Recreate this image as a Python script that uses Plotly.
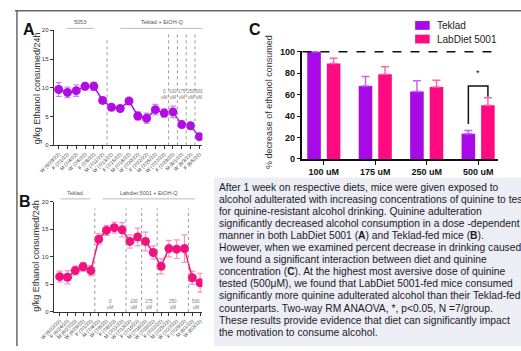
import plotly.graph_objects as go

W, H = 521, 351

# ---------------- data ----------------
dates_a = ["W (6/29/22)", "F (7/1/22)", "M (7/4/22)", "W (7/6/22)", "F (7/8/22)",
           "M (7/11/22)", "W (7/13/22)", "F (7/15/22)", "M (7/18/22)", "W (7/20/22)",
           "F (7/22/22)", "M (7/25/22)", "W (7/27/22)", "F (7/29/22)", "M (8/1/22)",
           "W (8/3/22)", "F (8/5/22)"]
vals_a = [9.7, 9.2, 9.5, 10.25, 10.25, 7.8, 6.6, 6.4, 7.7, 5.1, 4.7, 6.2, 5.6, 5.8, 3.6, 3.4, 1.5]
err_a = [1.2, 0.9, 1.0, 0.6, 0.7, 0.5, 0.5, 0.4, 0.4, 0.7, 0.9, 0.9, 0.7, 1.0, 0.4, 0.4, 0.3]

dates_b = ["W (6/22/22)", "F (6/24/22)", "M (6/27/22)", "W (6/29/22)", "F (7/1/22)",
           "M (7/4/22)", "W (7/6/22)", "F (7/8/22)", "M (7/11/22)", "W (7/13/22)",
           "F (7/15/22)", "M (7/18/22)", "W (7/20/22)", "F (7/22/22)", "M (7/25/22)",
           "W (7/27/22)", "F (7/29/22)", "M (8/1/22)", "W (8/3/22)"]
vals_b = [6.4, 6.3, 7.5, 8.2, 7.5, 13.2, 14.8, 15.3, 14.9, 12.8, 13.6, 12.8, 10.8, 8.3,
          11.5, 11.4, 11.5, 6.2, 5.3]
err_b = [1.0, 1.2, 0.8, 0.8, 0.9, 1.0, 0.9, 1.0, 1.3, 1.2, 1.6, 1.7, 1.2, 1.4, 1.5, 1.7,
         2.5, 1.2, 1.7]

# phase separators / concentration labels (positions in point index units)
sep_a = [5.5, 12.5, 13.5, 14.5, 15.5]
conc_a_pos = [12, 13, 14, 15, 16]
conc_labels = ["0", "100", "175", "250", "500"]
sep_b = [4.5, 8.5, 10.5, 12.5, 16.5]
conc_b_pos = [6.5, 9.5, 11.5, 14.5, 17.5]

cats_c = ["100 uM", "175 uM", "250 uM", "500 uM"]
teklad_c = [100, 68, 63, 23.5]
teklad_err = [0, 9, 10, 3]
labdiet_c = [89, 79, 67, 50]
labdiet_err = [5, 7, 6.5, 7]

text_lines = [
    "After 1 week on respective diets, mice were given exposed to",
    "alcohol adulterated with increasing concentrations of quinine to test",
    "for quinine-resistant alcohol drinking. Quinine adulteration",
    "significantly decreased alcohol consumption in a dose -dependent",
    "manner in both LabDiet 5001 (<b>A</b>) and Teklad-fed mice (<b>B</b>).",
    "However, when we examined percent decrease in drinking caused",
    "we found a significant interaction between diet and quinine",
    "concentration (<b>C</b>). At the highest most aversive dose of quinine",
    "tested (500\u03bcM), we found that LabDiet 5001-fed mice consumed",
    "significantly more quinine adulterated alcohol than their Teklad-fed",
    "counterparts. Two-way RM ANAOVA, *, p<0.05, N =7/group.",
    "These results provide evidence that diet can significantly impact",
    "the motivation to consume alcohol.",
]

PURPLE = "#b10de3"
PURPLE_L = "rgba(190,90,235,0.75)"
PINK = "#f2127f"
PINK_L = "rgba(245,120,180,0.8)"
TEK = "#a70ae6"
TEK_L = "#c466f0"
LAB = "#ff0a80"
LAB_L = "#ff66aa"
FONT = "Liberation Sans, Arial, sans-serif"


def px_x(p):
    return p / W


def px_y(p):
    return (H - p) / H


def ann(**kw):
    d = dict(showarrow=False, xanchor="center", yanchor="middle")
    d.update(kw)
    return d


fig = go.Figure()

# Panel A
fig.add_trace(go.Scatter(
    x=list(range(len(vals_a))), y=vals_a, mode="lines+markers",
    line=dict(color=PURPLE, width=1.5),
    marker=dict(color=PURPLE, size=9),
    error_y=dict(type="data", array=err_a, color=PURPLE_L, thickness=1.2, width=3),
    xaxis="x", yaxis="y", showlegend=False))

# Panel B
fig.add_trace(go.Scatter(
    x=list(range(len(vals_b))), y=vals_b, mode="lines+markers",
    line=dict(color=PINK, width=1.5),
    marker=dict(color=PINK, size=9),
    error_y=dict(type="data", array=err_b, color=PINK_L, thickness=1.2, width=3),
    xaxis="x2", yaxis="y2", showlegend=False))

# Panel C
xc = list(range(len(cats_c)))
fig.add_trace(go.Bar(
    x=xc, y=teklad_c, name="Teklad", marker=dict(color=TEK, line=dict(width=0)),
    error_y=dict(type="data", symmetric=False, array=teklad_err,
                 arrayminus=[0] * 4, color=TEK_L, thickness=1.5, width=4),
    xaxis="x3", yaxis="y3", showlegend=False))
fig.add_trace(go.Bar(
    x=xc, y=labdiet_c, name="LabDiet 5001", marker=dict(color=LAB, line=dict(width=0)),
    error_y=dict(type="data", symmetric=False, array=labdiet_err,
                 arrayminus=[0] * 4, color=LAB_L, thickness=1.5, width=4),
    xaxis="x3", yaxis="y3", showlegend=False))

shapes = []
annotations = []

# frame lines
shapes.append(dict(type="line", xref="paper", yref="paper", x0=0, x1=1,
                   y0=px_y(7), y1=px_y(7), line=dict(color="#666", width=1.5)))
shapes.append(dict(type="line", xref="paper", yref="paper", x0=px_x(2), x1=px_x(2),
                   y0=0, y1=px_y(7), line=dict(color="#666", width=1.5)))
# text box background
shapes.append(dict(type="rect", xref="paper", yref="paper", x0=px_x(205), x1=1,
                   y0=0, y1=px_y(178), fillcolor="#ededf6", line=dict(width=0),
                   layer="below"))

# separators A
for i, s in enumerate(sep_a):
    shapes.append(dict(type="line", xref="x", yref="y", x0=s, x1=s, y0=0,
                       y1=18.6 if i == 0 else 19.4,
                       line=dict(color="#9a9a9a", width=1, dash="dot")))
for p, lab in zip(conc_a_pos, conc_labels):
    annotations.append(ann(xref="x", yref="y", x=p, y=8.9, text=lab + "<br>uM",
                           font=dict(size=4.5, color="#777", family=FONT)))
# separators B
for s in sep_b:
    shapes.append(dict(type="line", xref="x2", yref="y2", x0=s, x1=s, y0=0, y1=18.8,
                       line=dict(color="#9a9a9a", width=1, dash="dot")))
for p, lab in zip(conc_b_pos, conc_labels):
    annotations.append(ann(xref="x2", yref="y2", x=p, y=1.35, text=lab + "<br>uM",
                           font=dict(size=4.5, color="#777", family=FONT)))

# header lines A
for (a, b, t) in [(0.9, 4.0, "5053"), (7.0, 16.4, "Teklad + EtOH-Q")]:
    shapes.append(dict(type="line", xref="x", yref="paper", x0=a, x1=b,
                       y0=px_y(25), y1=px_y(25), line=dict(color="#bbb", width=1)))
    annotations.append(ann(xref="x", yref="paper", x=(a + b) / 2, y=px_y(18), text=t,
                           font=dict(size=5.5, color="#555", family=FONT)))
# header lines B
for (a, b, t) in [(0.1, 3.9, "Teklad"), (5.5, 17.3, "Labdiet 5001 + EtOH-Q")]:
    shapes.append(dict(type="line", xref="x2", yref="paper", x0=a, x1=b,
                       y0=px_y(200), y1=px_y(200), line=dict(color="#bbb", width=1)))
    annotations.append(ann(xref="x2", yref="paper", x=(a + b) / 2, y=px_y(194), text=t,
                           font=dict(size=5.5, color="#555", family=FONT)))

# y titles A, B
annotations.append(ann(xref="paper", yref="paper", x=px_x(22), y=px_y(86),
                       text="g/kg Ethanol consumed/24h", textangle=-90,
                       font=dict(size=9, color="#333", family=FONT)))
annotations.append(ann(xref="paper", yref="paper", x=px_x(22), y=px_y(258),
                       text="g/kg Ethanol consumed/24h", textangle=-90,
                       font=dict(size=9, color="#333", family=FONT)))
# y title C
annotations.append(ann(xref="paper", yref="paper", x=px_x(262), y=px_y(100),
                       text="% decrease of ethanol consumed", textangle=-90,
                       font=dict(size=9, color="#333", family=FONT)))

# panel letters
for (x, y, t) in [(14, 26, "A"), (10, 203, "B"), (247, 26, "C")]:
    annotations.append(ann(xref="paper", yref="paper", x=px_x(x), y=px_y(y),
                           text="<b>" + t + "</b>",
                           font=dict(size=16, color="#111", family=FONT)))

# dashed 100% line C
shapes.append(dict(type="line", xref="x3 domain", yref="y3", x0=0, x1=1, y0=100, y1=100,
                   line=dict(color="#111", width=1.5, dash="dash")))
# significance bracket C (500 uM)
off = 0.19
xl, xr = 3 - off, 3 + off
ytop = 68
shapes.append(dict(type="path", xref="x3", yref="y3",
                   path=f"M {xl} {teklad_c[3] + teklad_err[3] + 6} L {xl} {ytop} L {xr} {ytop} L {xr} {labdiet_c[3] + labdiet_err[3] + 1}",
                   line=dict(color="#111", width=1.5)))
annotations.append(ann(xref="x3", yref="y3", x=3, y=80, text="*",
                       font=dict(size=9, color="#111", family=FONT)))

# manual legend C
for i, (c, t) in enumerate([(TEK, "Teklad"), (LAB, "LabDiet 5001")]):
    yc = 22 + 14 * i
    shapes.append(dict(type="rect", xref="paper", yref="paper", x0=px_x(412), x1=px_x(427),
                       y0=px_y(yc + 4.5), y1=px_y(yc - 4.5), fillcolor=c, line=dict(width=0)))
    annotations.append(ann(xref="paper", yref="paper", x=px_x(432), y=px_y(yc), text=t,
                           xanchor="left", font=dict(size=10, color="#222", family=FONT)))

# text block
for i, line in enumerate(text_lines):
    annotations.append(ann(xref="paper", yref="paper", x=px_x(208), y=px_y(188 + 12.4 * i),
                           text=line, xanchor="left",
                           font=dict(size=10.3, color="#1a1a1a",
                                     family="Liberation Sans Narrow, Arial Narrow, Liberation Sans")))

axis_common = dict(showgrid=False, zeroline=False, showline=True, ticks="outside")

fig.update_layout(
    width=W, height=H, margin=dict(l=0, r=0, t=0, b=0),
    paper_bgcolor="white", plot_bgcolor="rgba(0,0,0,0)",
    font=dict(family=FONT, color="#222"),
    barmode="group", bargap=0.24, bargroupgap=0.305,
    shapes=shapes, annotations=annotations,
    xaxis=dict(axis_common, domain=[px_x(40), px_x(193)], range=[-0.55, 16.35],
               anchor="y", tickvals=list(range(len(dates_a))), ticktext=dates_a,
               tickangle=-45, tickfont=dict(size=5, color="#333"), linecolor="#333",
               linewidth=1.2, ticklen=3, tickcolor="#333"),
    yaxis=dict(axis_common, domain=[px_y(145), px_y(27)], range=[0, 20], anchor="x",
               tickvals=[0, 5, 10, 15, 20], tickfont=dict(size=6, color="#333"),
               linecolor="#333", linewidth=1.2, ticklen=3, tickcolor="#333"),
    xaxis2=dict(axis_common, domain=[px_x(40), px_x(193)], range=[-0.75, 18.3],
                anchor="y2", tickvals=list(range(len(dates_b))), ticktext=dates_b,
                tickangle=-45, tickfont=dict(size=5, color="#333"), linecolor="#333",
                linewidth=1.2, ticklen=3, tickcolor="#333"),
    yaxis2=dict(axis_common, domain=[px_y(316), px_y(203)], range=[0, 20], anchor="x2",
                tickvals=[0, 5, 10, 15, 20], tickfont=dict(size=6, color="#333"),
                linecolor="#333", linewidth=1.2, ticklen=3, tickcolor="#333"),
    xaxis3=dict(axis_common, domain=[px_x(296), px_x(497)], range=[-0.415, 3.38],
                anchor="y3", tickvals=xc, ticktext=["<b>" + c + "</b>" for c in cats_c],
                tickfont=dict(size=9, color="#111"), linecolor="#111", linewidth=1.5,
                ticklen=4, tickcolor="#111"),
    yaxis3=dict(axis_common, domain=[px_y(159), px_y(47.9)], range=[0, 101], anchor="x3",
                tickvals=[0, 20, 40, 60, 80, 100],
                ticktext=["<b>%d</b>" % v for v in [0, 20, 40, 60, 80, 100]],
                tickfont=dict(size=9, color="#111"), linecolor="#111", linewidth=1.5,
                ticklen=4, tickcolor="#111"),
)

fig.write_html("out.html")
